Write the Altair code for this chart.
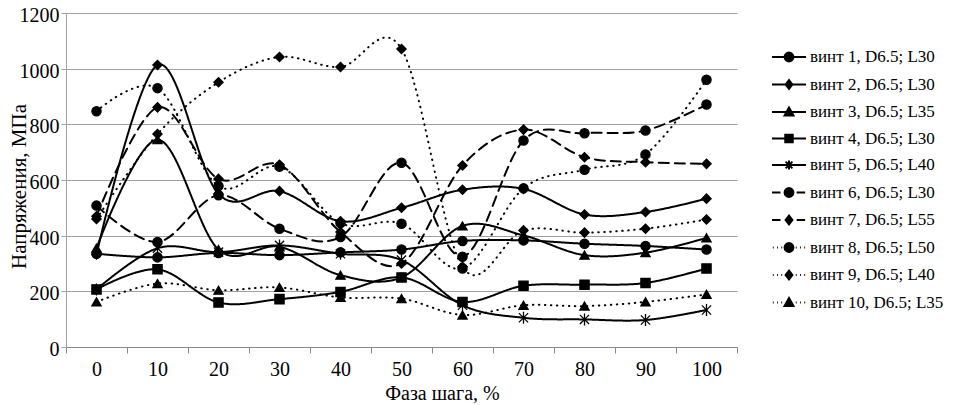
import altair as alt
import pandas as pd

phases = ["0", "10", "20", "30", "40", "50", "60", "70", "80", "90", "100"]

names = [
    "винт 1, D6.5; L30",
    "винт 2, D6.5; L30",
    "винт 3, D6.5; L35",
    "винт 4, D6.5; L30",
    "винт 5, D6.5; L40",
    "винт 6, D6.5; L30",
    "винт 7, D6.5; L55",
    "винт 8, D6.5; L50",
    "винт 9, D6.5; L40",
    "винт 10, D6.5; L35",
]

s1 = [335, 322, 338, 330, 340, 350, 381, 383, 371, 363, 350]
s2 = [332, 1013, 550, 560, 452, 500, 565, 568, 476, 485, 533]
s3 = [355, 745, 350, 360, 258, 250, 435, 401, 330, 339, 392]
s4 = [207, 279, 160, 172, 198, 250, 162, 220, 224, 230, 282]
s5 = [207, 355, 341, 365, 335, 312, 150, 105, 99, 97, 133]
s6 = [508, 377, 545, 425, 395, 662, 324, 742, 768, 778, 871]
s7 = [470, 861, 604, 655, 413, 300, 652, 781, 682, 664, 658]
s8 = [847, 930, 578, 648, 445, 443, 282, 570, 637, 692, 960]
s9 = [460, 765, 951, 1042, 1006, 1071, 288, 419, 411, 425, 458]
s10 = [162, 228, 204, 214, 178, 174, 115, 150, 147, 162, 189]

series_values = [s1, s2, s3, s4, s5, s6, s7, s8, s9, s10]

rows = []
for n, vals in zip(names, series_values):
    for p, v in zip(phases, vals):
        rows.append({"series": n, "phase": p, "value": v})
df = pd.DataFrame(rows)

# line styles
SOLID = [1, 0]
DASH = [10, 6]
DOT = [0.5, 5.5]
dashes = [SOLID] * 5 + [DASH] * 2 + [DOT] * 3
widths = [2] * 5 + [2.2] * 2 + [3.2] * 3

# plot markers
AST = "M-1,-1L1,1M-1,1L1,-1M0,-1.3V1.3"
plot_shapes = ["circle", "diamond", "triangle-up", "square", AST,
               "circle", "diamond", "circle", "diamond", "triangle-up"]

# legend symbols: line sample + marker
L_SOLID = "M-1,0H1 "
L_DASH = "M-1,0H-0.5M0.45,0H0.95 "
L_DOT = "M-0.95,0H-0.9M-0.7,0H-0.65M-0.45,0H-0.4M0.4,0H0.45M0.65,0H0.7M0.9,0H0.95 "
M_CIRC = "M0.26,0A0.26,0.26,0,1,1,-0.26,0A0.26,0.26,0,1,1,0.26,0Z"
M_DIAM = "M0,-0.26L0.2,0L0,0.26L-0.2,0Z"
M_TRI = "M0,-0.26L0.26,0.2L-0.26,0.2Z"
M_SQ = "M-0.22,-0.22H0.22V0.22H-0.22Z"
M_AST = "M-0.2,-0.2L0.2,0.2M-0.2,0.2L0.2,-0.2M0,-0.26V0.26"
legend_paths = [
    L_SOLID + M_CIRC, L_SOLID + M_DIAM, L_SOLID + M_TRI, L_SOLID + M_SQ, L_SOLID + M_AST,
    L_DASH + M_CIRC, L_DASH + M_DIAM, L_DOT + M_CIRC, L_DOT + M_DIAM, L_DOT + M_TRI,
]

FONT = "Liberation Serif"

x_enc = alt.X(
    "phase:N", sort=phases,
    scale=alt.Scale(type="band", paddingInner=0, paddingOuter=0),
    axis=alt.Axis(title="Фаза шага, %", labelAngle=0, tickBand="extent", grid=False,
                  domainColor="#888888", tickColor="#888888", tickSize=6,
                  labelFont=FONT, titleFont=FONT,
                  labelFontSize=20, titleFontSize=20, labelPadding=6,
                  titleX=376, titleY=52, titleBaseline="alphabetic",
                  labelColor="black", titleColor="black", titleFontWeight="normal"),
)
y_enc = alt.Y(
    "value:Q",
    scale=alt.Scale(domain=[0, 1200], nice=False),
    axis=alt.Axis(title="Напряжения, МПа", values=[0, 200, 400, 600, 800, 1000, 1200],
                  format="d",
                  grid=True, gridColor="#a0a0a0", domainColor="#a0a0a0", tickColor="#a0a0a0",
                  tickSize=5, labelFont=FONT, titleFont=FONT,
                  labelFontSize=20, titleFontSize=21, labelPadding=2, labelOffset=2.5,
                  titleX=-37, titleY=173, labelColor="black", titleColor="black",
                  titleFontWeight="normal"),
)

lines = alt.Chart(df).mark_line(
    color="black", interpolate="cardinal", tension=0, strokeCap="round"
).encode(
    x=x_enc, y=y_enc,
    strokeDash=alt.StrokeDash("series:N", scale=alt.Scale(domain=names, range=dashes), legend=None),
    strokeWidth=alt.StrokeWidth("series:N", scale=alt.Scale(domain=names, range=widths), legend=None),
)

points = alt.Chart(df).mark_point(
    filled=True, size=85, color="black", stroke="black", strokeWidth=1.3, opacity=1
).encode(
    x=x_enc, y=y_enc,
    shape=alt.Shape("series:N", scale=alt.Scale(domain=names, range=plot_shapes), legend=None),
)

carrier = alt.Chart(df).mark_point(
    filled=True, fill="black", stroke="black", strokeWidth=2, opacity=0
).encode(
    x=x_enc, y=y_enc,
    fill=alt.value("black"),
    stroke=alt.value("black"),
    shape=alt.Shape(
        "series:N",
        scale=alt.Scale(domain=names, range=legend_paths),
        legend=alt.Legend(
            title=None, orient="none", legendX=705, legendY=26,
            symbolSize=1156, symbolStrokeWidth=2, symbolOpacity=1,
            labelFont=FONT, labelFontSize=17, labelColor="black",
            rowPadding=0.5, labelOffset=3, padding=0, labelLimit=400,
        ),
    ),
)

chart = alt.layer(lines, points, carrier).resolve_scale(
    shape="independent"
).resolve_legend(shape="independent").properties(
    width=671, height=334,
    autosize=alt.AutoSizeParams(type="none"),
    padding={"left": 58, "top": 5, "right": 224, "bottom": 58},
).configure_view(strokeWidth=0)

chart.save("out.html", embed_options={"renderer": "svg", "actions": False})
